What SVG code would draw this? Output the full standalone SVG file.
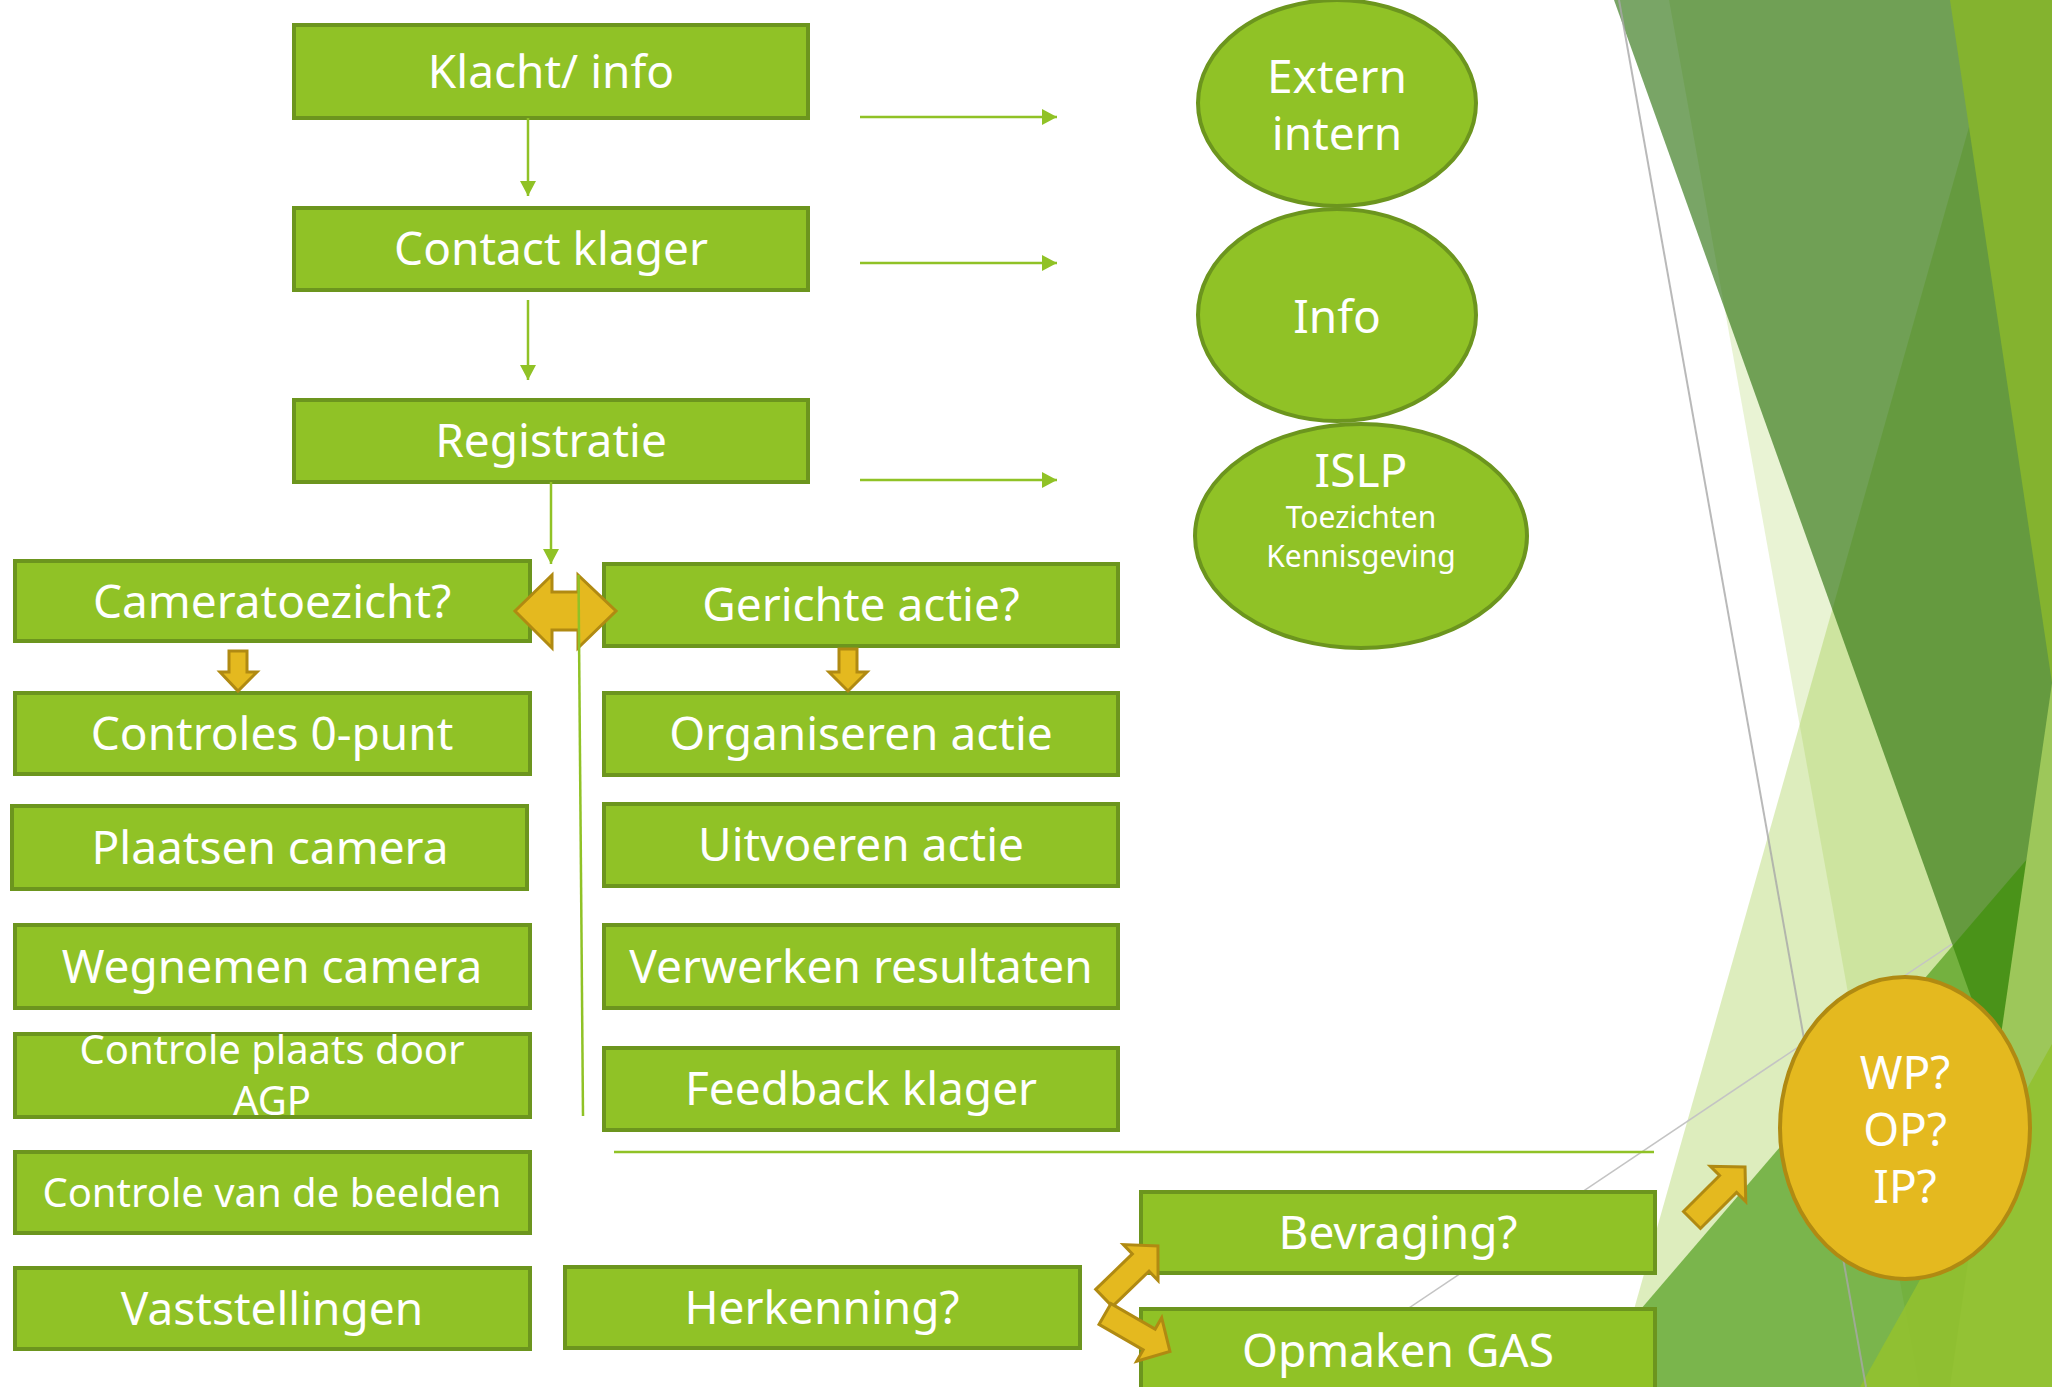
<svg xmlns="http://www.w3.org/2000/svg" width="2052" height="1387" viewBox="0 0 2052 1387">
<style>
.box{fill:#90C226;stroke:#6C951E;stroke-width:4}
.ell{fill:#90C226;stroke:#6C951E;stroke-width:4}
.gold{fill:#E4B91F;stroke:#B08A12;stroke-width:3;stroke-linejoin:miter}
.t{font-family:"Noto Sans","Open Sans","DejaVu Sans",sans-serif;fill:#FFFFFF;text-anchor:middle;font-size:46px}
.s{font-size:40px}
.xs{font-size:30px}
.con{stroke:#90C226;stroke-width:2.5;fill:none}
</style>
<defs>
<marker id="ah" markerUnits="userSpaceOnUse" markerWidth="16" markerHeight="16" refX="15" refY="8" orient="auto"><path d="M0,0 L15,8 L0,16 Z" fill="#90C226"/></marker>
<path id="blk" d="M0,-12 L51,-12 L51,-25 L75,0 L51,25 L51,12 L0,12 Z"/>
</defs>
<rect width="2052" height="1387" fill="#FFFFFF"/>
<g id="decor">
<polygon points="1669,0 2052,0 2052,1387 1919,1387" fill="#90C226" fill-opacity="0.2"/>
<polygon points="2005,0 2052,0 2052,1387 1612,1387" fill="#90C226" fill-opacity="0.3"/>
<polygon points="1614,0 2052,0 2052,1223" fill="rgb(32,105,0)" fill-opacity="0.6"/>
<polygon points="2052,830 2052,1387 1574,1387" fill="rgb(57,143,0)" fill-opacity="0.6"/>
<polygon points="1950,0 2052,0 2052,683" fill="#84B32F"/>
<polygon points="2052,683 2052,1387 1950,1387" fill="#9DC75A"/>
<polygon points="2052,1044 2052,1387 1860,1387" fill="#92C130" fill-opacity="0.9"/>
<line x1="1619" y1="0" x2="1866" y2="1387" stroke="#A8A8A8" stroke-width="2" stroke-opacity="0.8"/>
<line x1="1291" y1="1387" x2="1952" y2="944" stroke="#C4C4C4" stroke-width="1.5"/>
</g>
<g id="n-klacht"><rect class="box" x="294" y="25" width="514" height="93"/><text class="t" x="551" y="88">Klacht/ info</text></g>
<g id="n-contact"><rect class="box" x="294" y="208" width="514" height="82"/><text class="t" x="551" y="265">Contact klager</text></g>
<g id="n-registratie"><rect class="box" x="294" y="400" width="514" height="82"/><text class="t" x="551" y="457">Registratie</text></g>
<g id="n-extern"><ellipse class="ell" cx="1337" cy="103" rx="139" ry="103"/><text class="t" x="1337" y="93">Extern</text><text class="t" x="1337" y="150">intern</text></g>
<g id="n-info"><ellipse class="ell" cx="1337" cy="315" rx="139" ry="106"/><text class="t" x="1337" y="333">Info</text></g>
<g id="n-islp"><ellipse class="ell" cx="1361" cy="536" rx="166" ry="112"/><text class="t" x="1361" y="487">ISLP</text><text class="t xs" x="1361" y="528">Toezichten</text><text class="t xs" x="1361" y="567">Kennisgeving</text></g>
<g id="n-camera"><rect class="box" x="15" y="561" width="515" height="80"/><text class="t" x="272" y="618">Cameratoezicht?</text></g>
<g id="n-controles"><rect class="box" x="15" y="693" width="515" height="81"/><text class="t" x="272" y="750">Controles 0-punt</text></g>
<g id="n-plaatsen"><rect class="box" x="12" y="806" width="515" height="83"/><text class="t" x="270" y="864">Plaatsen camera</text></g>
<g id="n-wegnemen"><rect class="box" x="15" y="925" width="515" height="83"/><text class="t" x="272" y="983">Wegnemen camera</text></g>
<g id="n-agp"><rect class="box" x="15" y="1034" width="515" height="83"/><text class="t s" x="272" y="1064">Controle plaats door</text><text class="t s" x="272" y="1115">AGP</text></g>
<g id="n-beelden"><rect class="box" x="15" y="1152" width="515" height="81"/><text class="t s" x="272" y="1207">Controle van de beelden</text></g>
<g id="n-vaststellingen"><rect class="box" x="15" y="1268" width="515" height="81"/><text class="t" x="272" y="1325">Vaststellingen</text></g>
<g id="n-gerichte"><rect class="box" x="604" y="564" width="514" height="82"/><text class="t" x="861" y="621">Gerichte actie?</text></g>
<g id="n-organiseren"><rect class="box" x="604" y="693" width="514" height="82"/><text class="t" x="861" y="750">Organiseren actie</text></g>
<g id="n-uitvoeren"><rect class="box" x="604" y="804" width="514" height="82"/><text class="t" x="861" y="861">Uitvoeren actie</text></g>
<g id="n-verwerken"><rect class="box" x="604" y="925" width="514" height="83"/><text class="t" x="861" y="983">Verwerken resultaten</text></g>
<g id="n-feedback"><rect class="box" x="604" y="1048" width="514" height="82"/><text class="t" x="861" y="1105">Feedback klager</text></g>
<g id="n-herkenning"><rect class="box" x="565" y="1267" width="515" height="81"/><text class="t" x="822" y="1324">Herkenning?</text></g>
<g id="n-bevraging"><rect class="box" x="1141" y="1192" width="514" height="81"/><text class="t" x="1398" y="1249">Bevraging?</text></g>
<g id="n-gas"><rect class="box" x="1141" y="1309" width="514" height="82"/><text class="t" x="1398" y="1367">Opmaken GAS</text></g>
<g id="n-wp"><ellipse cx="1905" cy="1128" rx="125" ry="151" fill="#E4B91F" stroke="#B08A12" stroke-width="4"/><text class="t" x="1905" y="1089">WP?</text><text class="t" x="1905" y="1146">OP?</text><text class="t" x="1905" y="1203">IP?</text></g>
<g id="connectors">
<path class="con" d="M528,118 V196" marker-end="url(#ah)"/>
<path class="con" d="M528,300 V380" marker-end="url(#ah)"/>
<path class="con" d="M551,482 V564" marker-end="url(#ah)"/>
<path class="con" d="M860,117 H1057" marker-end="url(#ah)"/>
<path class="con" d="M860,263 H1057" marker-end="url(#ah)"/>
<path class="con" d="M860,480 H1057" marker-end="url(#ah)"/>
<path class="con" d="M614,1152 H1654"/>
<path class="gold" d="M515,611 L552,575 L552,592 L578,592 L578,575 L616,611 L578,648 L578,630 L552,630 L552,648 Z"/>
<path class="con" d="M578.5,575 L583,1116"/>
<path class="gold" d="M229,651 H247 V672 H257 L238,691 L220,672 H229 Z"/>
<path class="gold" d="M839,649 H857 V672 H867 L848,691 L829,672 H839 Z"/>
<use href="#blk" class="gold" transform="translate(1104,1298) rotate(-44)"/>
<use href="#blk" class="gold" transform="translate(1105,1314) rotate(30)"/>
<use href="#blk" class="gold" transform="translate(1692,1220) rotate(-45)"/>
</g>
</svg>
